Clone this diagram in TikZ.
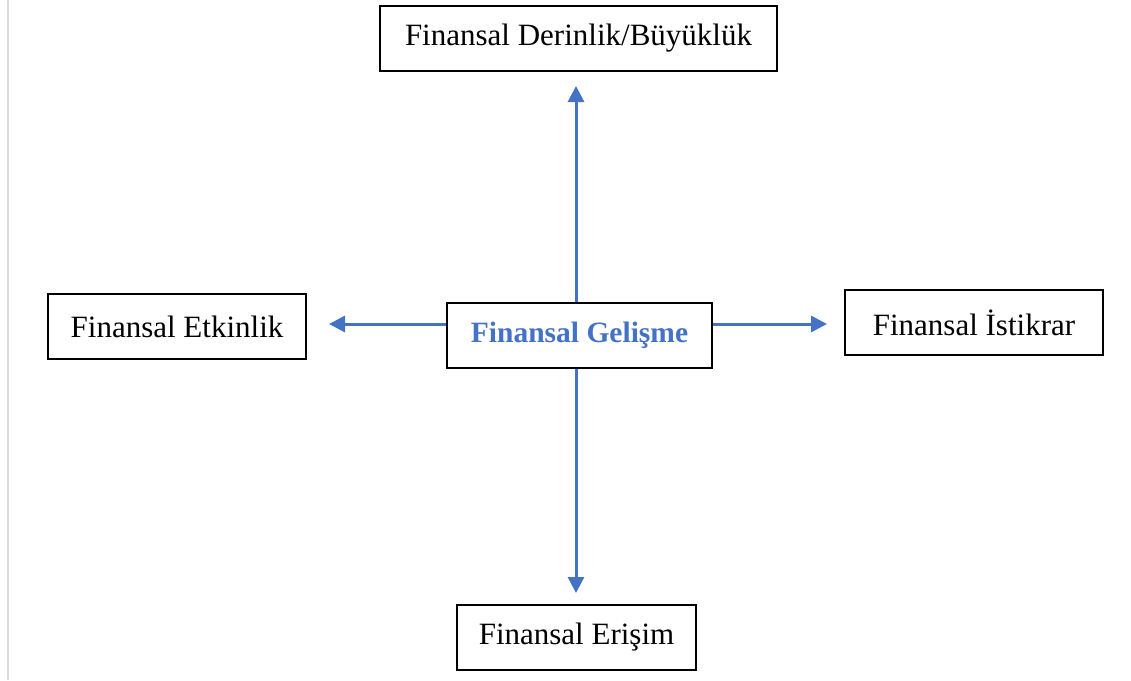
\documentclass[tikz,border=0pt]{standalone}
\usepackage{fontspec}
\setmainfont{Liberation Serif}
\usetikzlibrary{arrows.meta}
\definecolor{arrowblue}{RGB}{68,114,196}
\definecolor{edgegray}{RGB}{218,218,218}
\begin{document}
\begin{tikzpicture}[x=1pt,y=-1pt,
  box/.style={draw=black,line width=1.3pt,fill=white,inner sep=0pt,font=\fontsize{31}{34}\selectfont},
  link/.style={draw=arrowblue,line width=3pt,-{Triangle[length=16pt,width=16pt]}}]
\useasboundingbox (0,0) rectangle (1131,680);
\draw[edgegray,line width=2pt] (8,0) -- (8,680);
% arrows first (behind boxes)
\coordinate (hub) at (576,324);
\coordinate (tipN) at (576,86);
\coordinate (tipS) at (576,593);
\coordinate (tipW) at (329,324);
\coordinate (tipE) at (827,324);
\draw[link] (hub) -- (tipN);
\draw[link] (hub) -- (tipS);
\draw[link] (hub) -- (tipW);
\draw[link] (hub) -- (tipE);
\node[box,minimum width=397pt,minimum height=65pt] (top) at (578.5,38.5) {Finansal Derinlik/Büyüklük};
\node[box,minimum width=265pt,minimum height=65pt,text=arrowblue,font=\fontsize{29.5}{33}\selectfont\bfseries] (center) at (579.5,335.5) {Finansal Gelişme};
\node[box,minimum width=258pt,minimum height=65pt] (left) at (177,326.5) {Finansal Etkinlik};
\node[box,minimum width=258pt,minimum height=65pt] (right) at (974,322.5) {Finansal İstikrar};
\node[box,minimum width=239pt,minimum height=65pt] (bottom) at (576.5,637.5) {Finansal Erişim};
\end{tikzpicture}
\end{document}
